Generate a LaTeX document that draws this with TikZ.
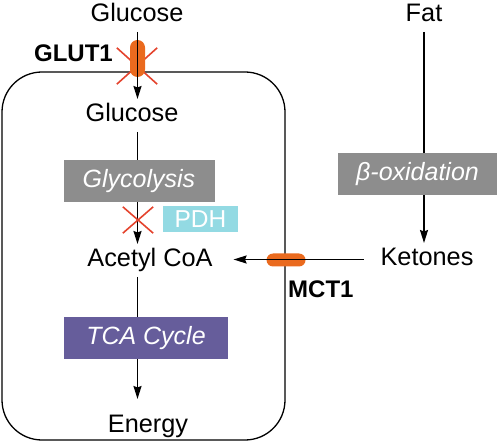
\documentclass[tikz,border=0pt]{standalone}
\usepackage{fontspec}
\setmainfont{Liberation Sans}
\usetikzlibrary{arrows.meta}
\definecolor{orng}{HTML}{EA6A1E}
\definecolor{xred}{HTML}{E4432D}
\definecolor{gbox}{HTML}{8D8D8D}
\definecolor{pdhc}{HTML}{93DAE3}
\definecolor{tcac}{HTML}{665D9B}
\begin{document}
\begin{tikzpicture}[x=1pt,y=-1pt,
 txt/.style={font=\fontsize{25.3}{29}\selectfont, inner sep=0pt, text height=18pt, text depth=5pt, outer sep=5pt},
 lbl/.style={font=\fontsize{24}{29}\selectfont\bfseries, inner sep=0pt},
 procbox/.style={font=\fontsize{25}{29}\selectfont\itshape, text=white, inner sep=0pt, minimum height=42pt},
 arr/.style={line width=1.6pt, -{Stealth[length=13pt,width=8pt,inset=1.5pt]}},
 ln/.style={line width=1.6pt},
 transporter/.style={fill=orng, draw=none, inner sep=0pt, rounded corners=6.5pt},
 xmark/.style={draw=xred, line width=1.6pt}
]
\useasboundingbox (0,0) rectangle (500,443);
\node[draw, line width=1.3pt, rounded corners=40pt, minimum width=283pt, minimum height=368pt, inner sep=0pt] (cell) at (143.5,256) {};

\node[txt] (gluOut) at (137,15.5) {Glucose};
\node[txt] (gluIn) at (132,115.5) {Glucose};
\node[procbox, fill=gbox, minimum width=151pt] (glyc) at (139,181) {Glycolysis};
\node[font=\fontsize{24.5}{29}\selectfont, fill=pdhc, text=white, inner sep=0pt, minimum width=75pt, minimum height=26pt] (pdh) at (200.5,219) {PDH};
\node[txt] (acetyl) at (150,260.5) {Acetyl CoA};
\node[procbox, fill=tcac, minimum width=164pt] (tca) at (146,338) {TCA Cycle};
\node[txt] (energy) at (148,425.5) {Energy};
\node[txt] (fat) at (424,15.5) {Fat};
\node[procbox, fill=gbox, minimum width=159pt] (beta) at (417.5,174) {β-oxidation};
\node[txt] (keto) at (427,259.5) {Ketones};

\node[inner sep=0pt, minimum width=40pt, minimum height=36pt] (xg) at (137,66) {};
\draw[xmark] (xg.north west) -- (xg.south east) (xg.north east) -- (xg.south west);
\node[transporter, minimum width=15pt, minimum height=37pt, rounded corners=7.5pt] (glut) at (137.5,58.5) {};
\node[transporter, minimum width=39pt, minimum height=13pt] (mct) at (286,260) {};
\node[lbl, anchor=base east] (glutlbl) at (113,62) {GLUT1};
\node[lbl, anchor=base west] (mctlbl) at (288,298) {MCT1};

\draw[arr] (gluOut.south -| glut) -- (gluIn.north -| glut);
\draw[ln] (gluIn.south -| glut) -- (glyc.north -| glut);
\draw[arr] (glyc.south -| glut) -- (acetyl.north -| glut);
\node[inner sep=0pt, minimum width=30pt, minimum height=26pt] (xp) at (138,220) {};
\draw[xmark] (xp.north west) -- (xp.south east) (xp.north east) -- (xp.south west);
\draw[ln] (acetyl.south -| glut) -- (tca.north -| glut);
\draw[arr, shorten >=10pt] (tca.south -| glut) -- (energy.north -| glut);
\draw[ln] (fat.south) -- (beta.north -| fat.south);
\draw[arr] (beta.south -| fat.south) -- (keto.north -| fat.south);
\draw[arr, shorten <=12pt, shorten >=16pt] (keto.west) -- (keto.west -| acetyl.east);
\end{tikzpicture}
\end{document}
